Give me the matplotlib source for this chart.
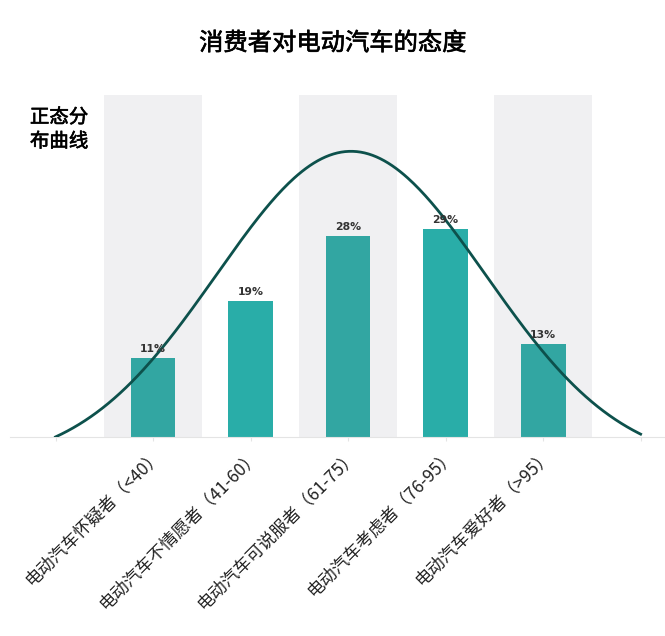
import numpy as np
import matplotlib.pyplot as plt
import matplotlib.patheffects as pe

plt.rcParams['font.family'] = ['Noto Sans CJK SC', 'DejaVu Sans']

# data
categories = ['电动汽车怀疑者（<40）', '电动汽车不情愿者（41-60）', '电动汽车可说服者（61-75）',
              '电动汽车考虑者（76-95）', '电动汽车爱好者（>95）']
shares = [11, 19, 28, 29, 13]
labels = ['11%', '19%', '28%', '29%', '13%']

# normal curve parameters (in % units, x in category positions)
curve_mean = 2.03
curve_sigma = 1.38
curve_peak = 39.9
curve_start, curve_end = -1, 5

fig = plt.figure(figsize=(6.65, 6.36), dpi=100)
ax = fig.add_axes([0.015, 0.313, 0.985, 0.538])

x = np.arange(len(categories))

# grey bands behind every other category
for i in x[::2]:
    ax.axvspan(i - 0.5, i + 0.5, color='#f0f0f2', zorder=0, lw=0)

colors = ['#32a6a2' if i % 2 == 0 else '#29ada8' for i in x]
bars = ax.bar(x, shares, width=0.46, color=colors, zorder=2)
for b, t in zip(bars, labels):
    ax.annotate(t, (b.get_x() + b.get_width() / 2, b.get_height()),
                xytext=(0, 3), textcoords='offset points', ha='center', va='bottom',
                fontsize=7.8, fontweight='bold', color='#333333',
                family='DejaVu Sans', zorder=4)

# normal distribution curve, dropped to the baseline at both ends
xs = np.linspace(curve_start, curve_end, 300)
g = np.exp(-(xs - curve_mean) ** 2 / (2 * curve_sigma ** 2))
g0 = g.min()
ys = curve_peak * (g - g0) / (g.max() - g0)
ax.plot(xs, ys, color='#0d514c', lw=2, zorder=3)

ax.set_xlim(-1.467, 5.25)
ax.set_ylim(0, 47.8)

ticks = np.arange(curve_start, curve_end + 1)
ax.set_xticks(ticks)
ax.set_xticklabels([''] + categories + [''], rotation=45, ha='right',
                   rotation_mode='anchor', fontsize=12.5, color='#222222')
ax.tick_params(axis='x', length=3, color='#e4e4e4', pad=3)
ax.set_yticks([])
for s in ['top', 'right', 'left']:
    ax.spines[s].set_visible(False)
ax.spines['bottom'].set_color('#e4e4e4')

semi_bold = [pe.withStroke(linewidth=0.45, foreground='#000000')]
fig.text(0.5, 0.932, '消费者对电动汽车的态度', ha='center', va='center',
         fontsize=17.5, color='#000000', path_effects=semi_bold)
fig.text(0.045, 0.832, '正态分\n布曲线', ha='left', va='top', fontsize=14,
         color='#000000', linespacing=1.2, path_effects=semi_bold)

fig.savefig('out.png', dpi=100)
